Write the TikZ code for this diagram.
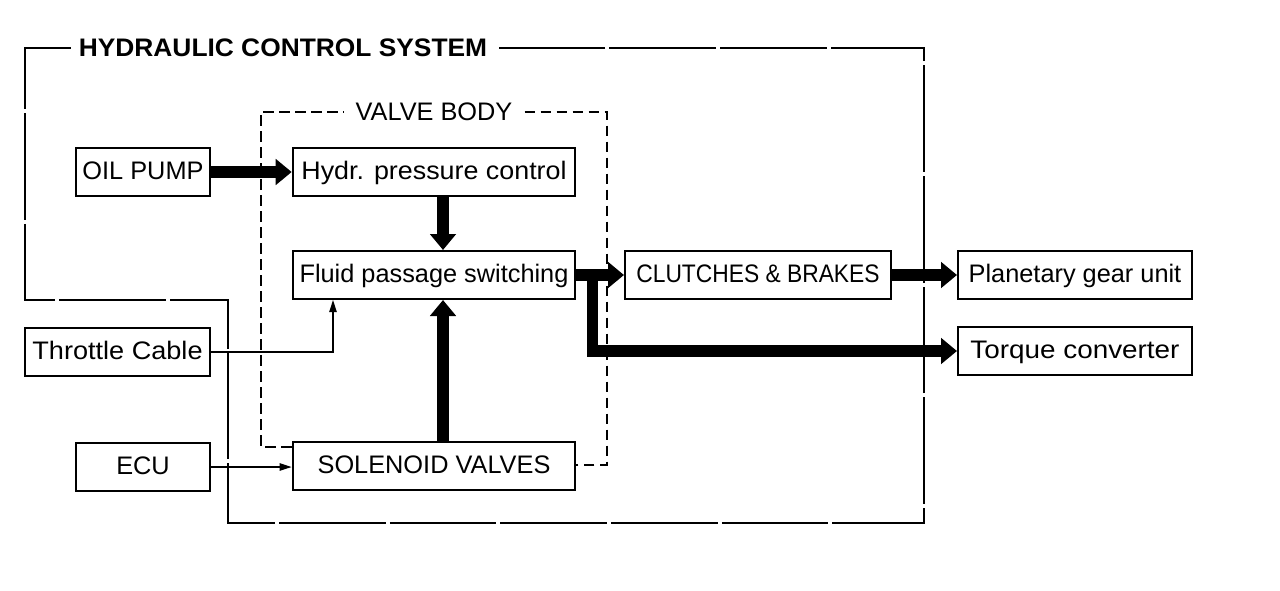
\documentclass[tikz,border=0pt]{standalone}
\usepackage{fontspec}
\setmainfont{Liberation Sans}
\usetikzlibrary{arrows.meta,calc}
\newcommand{\hs}[2]{\scalebox{#1}[1]{#2}}
\begin{document}
\begin{tikzpicture}[x=0.75pt,y=-0.75pt,
  box/.style={draw, line width=1.5pt, minimum height=36pt, inner sep=0pt,
    text height=14pt, text depth=3.5pt, font=\fontsize{19}{22}\selectfont},
  title/.style={inner ysep=0pt, inner xsep=6pt, font=\fontsize{19}{22}\selectfont},
  bigarrow/.style={line width=8.5pt, line join=miter, -{Triangle[width=19pt,length=12pt]}},
  thinarrow/.style={line width=1.1pt, -{Triangle[width=5.5pt,length=9pt]}},
  outerline/.style={line width=1.2pt, dash pattern=on 80pt off 3pt},
  valveline/.style={line width=1.1pt, dash pattern=on 8pt off 4pt}]
\useasboundingbox (0,0) rectangle (1280,590);

% boxes
\node[box, minimum width=100.5pt] (oil) at (143,172) {OIL PUMP};
\node[box, minimum width=212pt] (hydr) at (434,172) {\hs{1.06}{Hydr. pressure control}};
\node[box, minimum width=212pt] (fluid) at (434,275) {Fluid passage switching};
\node[box, minimum width=199.5pt] (clutch) at (758,275) {\hs{0.9}{CLUTCHES \& BRAKES}};
\node[box, minimum width=175.5pt] (planet) at (1075,275) {Planetary gear unit};
\node[box, minimum width=175.5pt] (torque) at (1075,351) {\hs{1.1}{Torque converter}};
\node[box, minimum width=139pt] (throttle) at (117.5,352) {\hs{1.07}{Throttle Cable}};
\node[box, minimum width=100.5pt] (ecu) at (143,467) {ECU};
\node[box, minimum width=212pt] (sol) at (434,466) {SOLENOID VALVES};

% titles
\node[title, font=\fontsize{19}{22}\selectfont\bfseries] (hcs) at (283,48) {\hs{1.04}{HYDRAULIC CONTROL SYSTEM}};
\node[title, inner xsep=9pt] (vb) at (434,112) {VALVE BODY};

% hydraulic control system boundary
\draw[outerline] (hcs.west) -- (25,48) -- (25,300) -- (228,300) -- (228,523)
  -- (924,523) -- (924,48) -- (hcs.east);

% valve body boundary
\draw[valveline] (sol.west |- 0,447) -- (261,447) -- (261,112) -- (vb.west);
\draw[valveline] (vb.east) -- (607,112) -- (607,465) -- (sol.east |- 0,465);

% thick arrows
\draw[bigarrow] (oil.east) -- (hydr.west);
\draw[bigarrow] ($(hydr.south)+(9,0)$) -- ($(fluid.north)+(9,0)$);
\draw[bigarrow] ($(sol.north)+(9,0)$) -- ($(fluid.south)+(9,0)$);
\draw[bigarrow] (fluid.east) -- (clutch.west);
\draw[bigarrow] (clutch.east) -- (planet.west);
\coordinate (br) at ($(fluid.east)+(16,-5)$);
\draw[bigarrow] (br) |- (torque.west);

% thin arrows
\draw[thinarrow] (throttle.east) -| ($(fluid.south)+(-101,0)$);
\draw[thinarrow] (ecu.east) -- (ecu.east -| sol.west);
\end{tikzpicture}
\end{document}
